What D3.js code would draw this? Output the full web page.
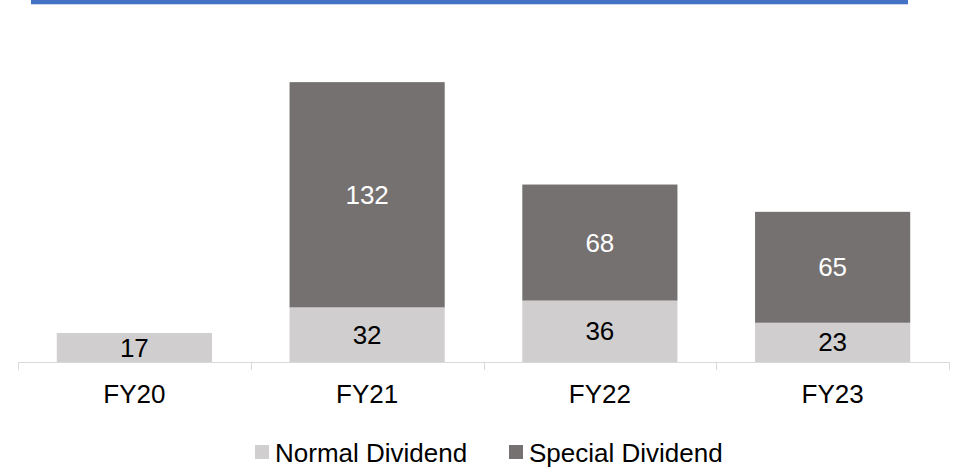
<!DOCTYPE html>
<html>
<head>
<meta charset="utf-8">
<script src="https://cdn.jsdelivr.net/npm/d3@7"></script>
<style>
  html, body { margin: 0; padding: 0; background: #ffffff; }
  svg { display: block; font-family: Arial, "Liberation Sans", sans-serif; }
</style>
</head>
<body>
<svg id="chart" width="957" height="467"></svg>
<script>
// Dividend per share by fiscal year
const categories = ["FY20", "FY21", "FY22", "FY23"];
const normalDividend = [17, 32, 36, 23];
const specialDividend = [0, 132, 68, 65];
const seriesNames = ["Normal Dividend", "Special Dividend"];
const seriesColors = ["#D0CECE", "#767171"];
const labelColors = ["#000000", "#ffffff"];

const svg = d3.select("#chart");
const fontSize = 26;

// Header rule
svg.append("rect").attr("x", 31).attr("y", 0).attr("width", 877).attr("height", 4).attr("fill", "#4472C4");
svg.append("rect").attr("x", 31).attr("y", 4).attr("width", 877).attr("height", 1).attr("fill", "#C9D6EE");

const plot = { left: 18, right: 949, top: 40, bottom: 362 };

const rows = categories.map((c, i) => ({ cat: c, normal: normalDividend[i], special: specialDividend[i] }));
const stack = d3.stack().keys(["normal", "special"])(rows);

const x = d3.scaleBand()
  .domain(categories)
  .range([plot.left, plot.right])
  .paddingInner(1 / 3)
  .paddingOuter(1 / 6);

const y = d3.scaleLinear()
  .domain([0, 188.7])
  .range([plot.bottom, plot.top]);

// Stacked bars
const layers = svg.append("g").selectAll("g")
  .data(stack)
  .join("g")
  .attr("fill", (d, i) => seriesColors[i]);

layers.selectAll("rect")
  .data(d => d.filter(s => s[1] - s[0] > 0))
  .join("rect")
  .attr("x", d => x(d.data.cat))
  .attr("width", x.bandwidth())
  .attr("y", d => y(d[1]))
  .attr("height", d => y(d[0]) - y(d[1]));

// Value labels, centred in each segment
stack.forEach((layer, i) => {
  svg.append("g").selectAll("text")
    .data(layer.filter(s => s[1] - s[0] > 0))
    .join("text")
    .attr("x", d => x(d.data.cat) + x.bandwidth() / 2)
    .attr("y", d => (y(d[0]) + y(d[1])) / 2)
    .attr("dy", "0.35em")
    .attr("text-anchor", "middle")
    .attr("font-size", fontSize)
    .attr("fill", labelColors[i])
    .text(d => d[1] - d[0]);
});

// Category axis with separators between groups
const axisColor = "#D9D9D9";
const step = x.step();
const sepX = d3.range(categories.length + 1).map(i => plot.left + i * step);
const axisG = svg.append("g");
axisG.append("line")
  .attr("x1", plot.left).attr("x2", plot.right)
  .attr("y1", plot.bottom + 0.5).attr("y2", plot.bottom + 0.5)
  .attr("stroke", axisColor).attr("stroke-width", 1);
axisG.selectAll("line.tick")
  .data(sepX)
  .join("line")
  .attr("class", "tick")
  .attr("x1", d => Math.round(d) + 0.5).attr("x2", d => Math.round(d) + 0.5)
  .attr("y1", plot.bottom).attr("y2", plot.bottom + 8)
  .attr("stroke", axisColor).attr("stroke-width", 1);
axisG.selectAll("text")
  .data(categories)
  .join("text")
  .attr("x", d => x(d) + x.bandwidth() / 2)
  .attr("y", 403)
  .attr("text-anchor", "middle")
  .attr("font-size", fontSize)
  .attr("fill", "#000000")
  .text(d => d);

// Legend
const legendItems = [
  { name: seriesNames[0], color: seriesColors[0], x: 255 },
  { name: seriesNames[1], color: seriesColors[1], x: 509 }
];
const lg = svg.append("g").selectAll("g").data(legendItems).join("g")
  .attr("transform", d => `translate(${d.x},0)`);
lg.append("rect").attr("x", 0).attr("y", 445).attr("width", 14).attr("height", 14).attr("fill", d => d.color);
lg.append("text").attr("x", 20).attr("y", 462).attr("font-size", fontSize).attr("fill", "#000").text(d => d.name);
</script>
</body>
</html>
